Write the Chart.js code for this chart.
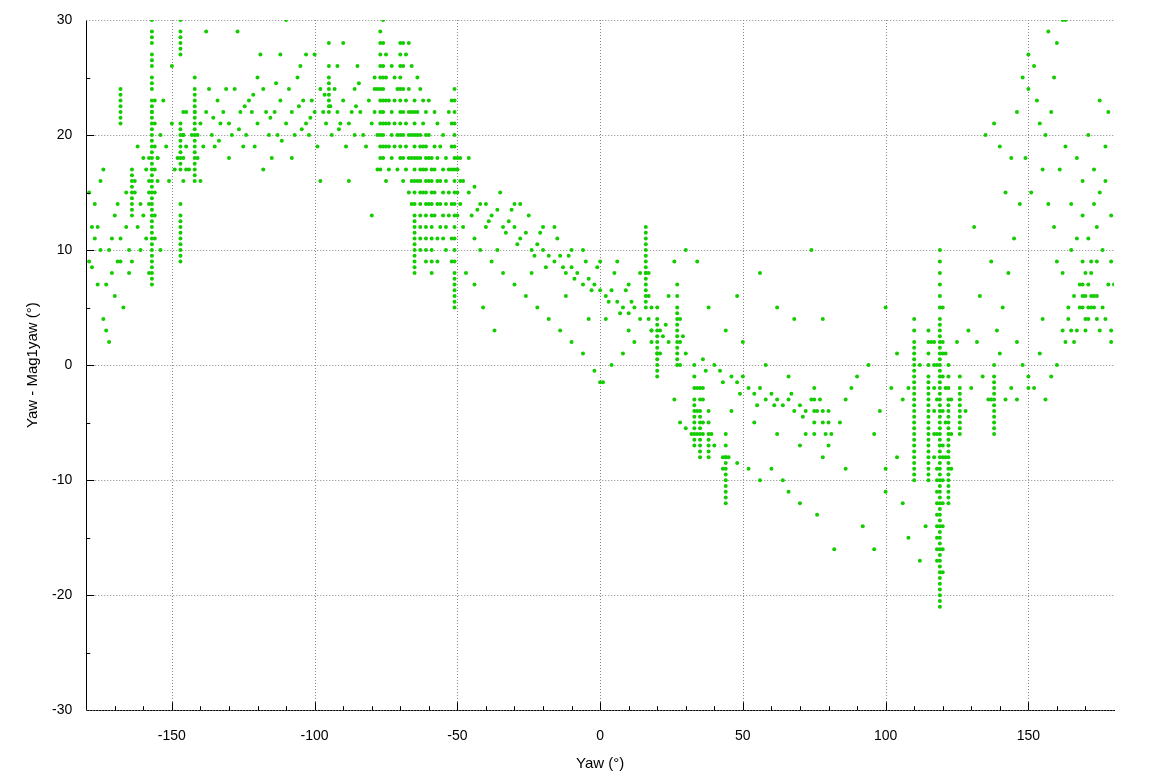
<!DOCTYPE html>
<html>
<head>
<meta charset="utf-8">
<script src="https://cdn.jsdelivr.net/npm/chart.js@4/dist/chart.umd.min.js"></script>
<style>
html, body { margin: 0; padding: 0; background: #fff; }
#wrap { width: 1156px; height: 773px; }
</style>
</head>
<body>
<div id="wrap"><canvas id="yawChart"></canvas></div>
<script>
// scattered points, [yaw, yaw - mag1yaw]
var leftScatter = [[-179,9],[-178,8.5],[-177,14],[-176,12],[-175,10],[-174,4],[-173,3],[-172,10],[-171,11],[-170,13],[-169,9],[-168,11],[-167,5],
  [-166,12],[-165,10],[-164,9],[-163,15],[-162,12],[-161,14],[-160,13],[-159,17],[-158,15],[-160,18],[-163,16],[-165,8],[-170,6],[-172,2],
  [-175,16],[-178,12],[-176,7],[-174,17],[-171,8],[-168,9],[-162,19],[-179,15],[-177,11],[-173,7],[-169,14],[-166,15],[-161,10],[-159,11],
  [-157,22],[-154,20],[-152,19],[-150,21],[-148,18],[-146,20],[-144,17],[-142,22],[-140,21],[-138,22],[-136,20],[-134,23],[-132,22],
  [-130,21],[-128,24],[-126,22],[-124,20],[-122,22],[-120,21],[-118,24],[-116,20],[-114,22],[-112,23],[-110,21],[-108,22],[-106,25],
  [-104,23],[-102,20],[-100,22],[-98,24],[-96,21],[-94,20],[-92,22],[-90,23],[-88,21],[-86,20],[-84,22],[-82,19],[-80,21],[-78,17],
  [-150,26],[-145,22],[-140,16],[-135,19],[-130,18],[-125,19],[-120,25],[-115,18],[-112,27],[-110,30],[-105,26],[-100,27],[-95,28],
  [-90,28],[-85,26],[-127,29],[-138,29],[-147,14],[-154,10],[-158,8],[-118,17],[-108,18],[-98,16],[-88,16],[-86,24],[-133,21],[-129,20],
  [-123,23],[-121,19],[-117,22],[-113,20],[-109,24],[-107,20],[-103,21],[-101,23],[-99,19],[-97,22],[-93,24],[-91,21],[-89,19],[-87,22],
  [-83,20],[-81,23],[-79,24],[-131,24],[-137,24],[-139,19],[-143,20],[-149,17],[-151,16],[-153,23],[-155,18],[-119,27],[-103,27],[-92,26],
  [-135.5,21.5],[-126.5,20.5],[-121.5,23.5],[-115.5,21.5],[-111.5,19.5],[-105.5,22.5],[-101.5,21.5],[-96.5,23.5],[-91.5,20.5],[-85.5,22.5],
  [-133.5,19.5],[-124.5,22.5],[-113.5,24.5],[-104.5,20.5],[-94.5,22.5],[-84.5,24.5]];

var midScatter = [[-50,17],[-48,16],[-46,15],[-44,15.5],[-42,14],[-40,14],[-38,13],[-36,13.5],[-34,12],[-32,12.5],[-30,12],[-28,11],
  [-26,11.5],[-24,10],[-22,10.5],[-20,10],[-18,9.5],[-16,9],[-14,9.5],[-12,8],[-10,8.5],[-8,8],[-6,7],[-4,7.5],[-2,7],[0,6.5],[2,6],
  [4,6.5],[6,5.5],[8,5],[10,4.5],[12,5],[14,4],[18,3],[22,2.5],[24,2],[30,1],[36,0.5],[40,0],[42,-0.5],[46,-1],[48,-1.5],[50,-1],
  [52,-2],[54,-2.5],[56,-2],[58,-3],[60,-2.5],[62,-3],[64,-3.5],[66,-3],[68,-4],[70,-3.5],[72,-4],[74,-3],[-45,13],[-40,12],[-35,15],
  [-30,14],[-25,13],[-20,12],[-15,11],[-10,10],[-5,9],[0,9],[5,8],[10,7],[-42,10],[-38,9],[-34,8],[-30,7],[-26,6],[-22,5],[-18,4],
  [-14,3],[-10,2],[-6,1],[-2,-0.5],[0,-1.5],[1,-1.5],[4,0],[8,1],[12,2],[16,8],[20,1],[26,-3],[28,-5],[30,-5.5],[32,-6],[36,-6],
  [40,-7],[44,-8],[48,-8.5],[52,-9],[56,-10],[60,-9],[64,-10],[66,-11],[70,-12],[76,-13],[82,-16],[-47,8],[-44,7],[-41,5],[-37,3],
  [56,8],[62,5],[68,4],[74,10],[78,4],[80,-7],[84,-5],[86,-3],[90,-1],[94,0],[96,-6],[98,-4],[100,-11],[100,5],[102,-2],[104,1],
  [106,-3],[92,-14],[96,-16],[-28,14],[-16,12],[-6,10],[6,9],[14,8],[24,6],[26,9],[30,10],[34,9],[38,5],[44,3],[48,6],[50,2],[58,0],
  [66,-1],[72,-6],[-48,12],[-46,18],[-44,11],[-36,10],[-24,8],[-12,6],[-4,4],[2,4],[10,3],[18,2],[28,0],[36,-2],[46,-4],[54,-5],[62,-6],
  [70,-7],[78,-8],[86,-9],[88,-2],[108,-15],[112,-17],[114,-14],[104,-8],[100,-9],[106,-12],
  [-43,13.5],[-39,12.5],[-33,11.5],[-29,10.5],[-23,9.5],[-19,8.5],[-13,8.5],[-9,7.5],[-3,6.5],[3,5.5],[7,4.5],[11,5.5],[23,3.5],
  [29,2.5],[37,-0.5],[43,-1.5],[49,-2.5],[55,-3.5],[61,-3.5],[67,-2.5],[71,-4.5],[-31,13.5],[-21,11.5],[-11,9.5],[-1,8.5],[9,6.5]];

var rightScatter = [[128,-4],[130,-2],[132,2],[134,-1],[136,-3],[140,1],[142,-3],[144,-2],[146,2],[148,0],[150,-1],[152,-2],[154,1],
  [156,-3],[158,-1],[160,0],[162,3],[164,4],[166,2],[168,5],[170,3],[172,6],[174,4],[176,5],[178,7],[179,3],[131,12],[135,20],[138,21],
  [140,19],[142,15],[144,18],[146,22],[148,25],[150,24],[152,26],[154,21],[156,20],[158,22],[160,28],[162,30],[163,30],[157,29],[159,25],
  [150,27],[149,18],[151,15],[153,23],[155,17],[157,14],[159,12],[161,17],[163,19],[165,14],[167,18],[169,13],[171,20],[173,17],[175,15],
  [177,19],[179,13],[178,22],[176,10],[174,12],[172,9],[170,8],[168,7],[166,6],[164,5],[162,8],[160,9],[165,10],[167,11],[169,16],
  [171,11],[173,14],[175,23],[177,16],[179,9],[180,7],[179,2],[177,4],[175,3],[173,5],[171,4],[169,6],[167,3],[165,3],[163,2],[145,11],
  [147,14],[143,8],[141,5],[139,3],[137,9],[133,6],[129,3],[125,2],[120,1],[116,2],[112,0],[108,-2],[146,-3],[150,-2],[155,4]];

// vertical streaks, listed as read
var streakPoints = [
  [-168,21],[-168,22],[-168,22.5],[-168,23],[-168,23.5],[-168,24],[-168,21.5],
  [-164,13],[-164,14],[-164,15],[-164,16],[-164,17],[-164,14.5],[-164,15.5],[-164,13.5],[-164,16.5],
  [-157,7],[-157,8],[-157,9],[-157,10],[-157,11],[-157,12],[-157,13],[-157,14],[-157,15],[-157,16],[-157,17],[-157,18],[-157,19],
  [-157,20],[-157,21],[-157,22],[-157,23],[-157,24],[-157,25],[-157,26],[-157,27],[-157,28],[-157,29],[-157,30],[-156,13],[-156,15],
  [-156,17],[-156,19],[-156,21],[-155,16],[-155,18],[-158,14],[-158,16],[-158,18],[-156,11],[-156,23],
  [-157,7.5],[-157,8.5],[-157,9.5],[-157,10.5],[-157,11.5],[-157,12.5],[-157,13.5],[-157,14.5],[-157,15.5],[-157,16.5],[-157,17.5],
  [-157,18.5],[-157,19.5],[-157,20.5],[-157,21.5],[-157,22.5],[-157,24.5],[-157,26.5],[-157,28.5],
  [-147,9],[-147,10],[-147,11],[-147,12],[-147,13],[-147,17],[-147,18],[-147,19],[-147,20],[-147,21],[-147,27],[-147,28],[-147,29],
  [-147,30],[-146,16],[-146,18],[-146,20],[-146,22],[-145,17],[-145,19],[-147,9.5],[-147,10.5],[-147,11.5],[-147,12.5],[-147,17.5],
  [-147,18.5],[-147,19.5],[-147,20.5],[-147,27.5],[-147,28.5],
  [-142,16],[-142,17],[-142,18],[-142,19],[-142,20],[-142,21],[-142,22],[-142,23],[-142,24],[-142,25],[-141,18],[-141,20],
  [-142,16.5],[-142,17.5],[-142,18.5],[-142,19.5],[-142,20.5],[-142,21.5],[-142,22.5],[-142,23.5],
  [-95,22],[-95,23],[-95,24],[-95,25],[-95,26],[-95,22.5],[-95,23.5],[-95,24.5],
  [-77,17],[-77,19],[-77,21],[-77,23],[-77,25],[-77,27],[-77,29],[-76,18],[-76,20],[-76,22],[-76,24],[-76,26],[-76,28],[-76,30],
  [-75,16],[-75,19],[-75,21],[-75,23],[-75,25],[-75,27],[-74,17],[-74,19],[-74,21],[-74,23],[-73,18],[-73,20],[-73,22],
  [-72,19],[-72,21],[-72,23],[-72,25],[-71,17],[-71,20],[-71,24],[-70,19],[-70,22],[-70,25],[-70,28],[-69,16],[-69,18],[-69,20],
  [-69,22],[-69,24],[-69,26],[-69,28],[-68,17],[-68,19],[-68,21],[-68,23],[-68,27],[-67,15],[-67,18],[-67,20],[-67,22],[-67,24],
  [-66,14],[-66,16],[-66,18],[-66,20],[-66,22],[-66,26],[-65,8],[-65,9],[-65,10],[-65,11],[-65,12],[-65,13],[-65,15],[-65,17],
  [-65,19],[-65,21],[-65,23],[-64,16],[-64,18],[-64,20],[-64,22],[-64,25],[-63,10],[-63,12],[-63,14],[-63,16],[-63,18],[-63,20],
  [-63,24],[-62,15],[-62,17],[-62,19],[-62,21],[-62,23],[-61,9],[-61,11],[-61,13],[-61,15],[-61,17],[-61,19],[-61,22],[-60,14],
  [-60,16],[-60,18],[-60,20],[-60,23],[-59,8],[-59,10],[-59,12],[-59,14],[-59,16],[-59,18],[-58,13],[-58,15],[-58,17],[-58,19],
  [-58,22],[-57,9],[-57,11],[-57,14],[-57,16],[-57,18],[-57,21],[-56,12],[-56,14],[-56,16],[-56,19],[-55,11],[-55,13],[-55,15],
  [-55,17],[-55,20],[-54,10],[-54,12],[-54,14],[-54,16],[-54,18],[-53,13],[-53,15],[-53,17],[-53,22],[-52,9],[-52,11],[-52,14],
  [-52,17],[-52,19],[-52,21],[-52,23],[-51,5],[-51,6],[-51,7],[-51,8],[-51,10],[-51,12],[-51,14],[-51,16],[-51,18],[-51,20],[-51,22],
  [-51,24],[-50,13],[-50,15],[-50,17],[-50,18],[-49,14],[-49,16],[-49,18],[-79,22],[-79,25],[-78,20],[-78,24],[-80,13],[-73,26],[-67,28],
  [-77,18],[-77,20],[-77,22],[-77,24],[-77,26],[-77,28],[-76,19],[-76,21],[-76,23],[-76,25],[-70,18],[-70,20],[-70,21],[-70,23],
  [-70,24],[-70,26],[-70,27],[-65,8.5],[-65,9.5],[-65,10.5],[-65,11.5],[-65,12.5],[-65,14],[-65,16],[-65,18],[-65,20],[-65,22],
  [-51,5.5],[-51,6.5],[-51,7.5],[-51,9],[-51,11],[-51,13],[-51,15],[-51,17],[-51,19],[-51,21],[-51,23],[-61,10],[-61,12],[-61,14],
  [-61,16],[-61,18],[-61,20],[-63,11],[-63,13],[-63,15],[-63,17],[-63,19],[-59,9],[-59,11],[-59,13],[-59,15],[-59,17],
  [16,5],[16,6],[16,7],[16,8],[16,9],[16,10],[16,11],[16,12],[17,4],[17,6],[17,8],[18,3],[18,5],[16,5.5],[16,6.5],[16,7.5],[16,8.5],
  [16,9.5],[16,10.5],[16,11.5],
  [20,-1],[20,0],[20,1],[20,2],[20,3],[20,4],[20,5],[21,1],[21,3],[20,-0.5],[20,0.5],[20,1.5],[20,2.5],[20,3.5],
  [27,0],[27,1],[27,2],[27,3],[27,4],[27,5],[27,6],[27,7],[28,2],[28,4],[27,0.5],[27,1.5],[27,2.5],[27,3.5],[27,4.5],
  [33,-7],[33,-6],[33,-5],[33,-4],[33,-3],[33,-2],[33,-1],[33,0],[34,-6],[34,-4],[34,-2],[33,-6.5],[33,-5.5],[33,-4.5],[33,-3.5],
  [35,-8],[35,-7],[35,-6],[35,-5],[35,-4],[35,-3],[35,-2],[36,-5],[36,-3],[35,-7.5],[35,-6.5],[35,-5.5],[35,-4.5],
  [38,-8],[38,-7],[38,-6],[38,-5],[38,-4],[39,-6],[38,-7.5],[38,-6.5],
  [44,-12],[44,-11],[44,-10],[44,-9],[44,-8],[44,-7],[44,-6],[43,-9],[43,-8],[45,-8],[44,-11.5],[44,-10.5],[44,-9.5],[44,-8.5],
  [75,-6],[75,-5],[75,-4],[75,-3],[75,-2],[76,-4],[77,-3],[78,-5],[78,-4],[79,-6],[80,-5],[80,-4],[81,-6],
  [110,-10],[110,-9],[110,-8],[110,-7],[110,-6],[110,-5],[110,-4],[110,-3],[110,-2],[110,-1],[110,0],[110,1],[110,2],[110,3],[110,4],
  [110,-9.5],[110,-8.5],[110,-7.5],[110,-6.5],[110,-5.5],[110,-4.5],[110,-3.5],[110,-2.5],[110,-1.5],[110,-0.5],[110,0.5],[110,1.5],
  [115,-10],[115,-9],[115,-8],[115,-7],[115,-6],[115,-5],[115,-4],[115,-3],[115,-2],[115,-1],[115,0],[115,1],[115,2],[115,3],
  [115,-9.5],[115,-8.5],[115,-7.5],[115,-6.5],[115,-5.5],[115,-4.5],[115,-3.5],[115,-2.5],[115,-1.5],
  [117,-8],[117,-6],[117,-4],[117,-2],[117,0],[117,2],
  [119,-21],[119,-20],[119,-19],[119,-18],[119,-17],[119,-16],[119,-15],[119,-14],[119,-13],[119,-12],[119,-11],[119,-10],[119,-9],
  [119,-8],[119,-7],[119,-6],[119,-5],[119,-4],[119,-3],[119,-2],[119,-1],[119,0],[119,1],[119,2],[119,3],[119,4],[119,5],[119,6],
  [119,7],[119,8],[119,9],[119,10],[118,-17],[118,-15],[118,-13],[118,-11],[118,-9],[118,-6],[118,-3],[118,0],[120,-18],[120,-14],
  [120,-10],[120,-7],[120,-4],[120,-1],[120,2],[120,5],[121,-8],[121,-5],[121,-2],[121,1],
  [119,-20.5],[119,-19.5],[119,-18.5],[119,-17.5],[119,-16.5],[119,-15.5],[119,-14.5],[119,-13.5],[119,-12.5],[119,-11.5],
  [119,-10.5],[119,-9.5],[119,-8.5],[119,-7.5],[119,-6.5],[119,-5.5],[119,-4.5],[119,-3.5],[119,-2.5],[119,-1.5],[119,-0.5],
  [119,0.5],[119,1.5],[119,2.5],[119,3.5],[118,-16],[118,-14],[118,-12],[118,-10],[120,-16],[120,-12],[120,-8],
  [122,-12],[122,-11],[122,-10],[122,-9],[122,-8],[122,-7],[122,-6],[122,-5],[122,-4],[122,-3],[122,-2],[122,-1],[122,0],
  [122,-11.5],[122,-10.5],[122,-9.5],[122,-8.5],[122,-7.5],[122,-6.5],[122,-5.5],[122,-4.5],[122,-3.5],
  [123,-9],[123,-6],[123,-3],
  [126,-6],[126,-5],[126,-4],[126,-3],[126,-2],[126,-1],[126,-5.5],[126,-4.5],[126,-3.5],[126,-2.5],
  [138,-6],[138,-5],[138,-4],[138,-3],[138,-2],[138,-1],[138,0],[137,-3],[138,-5.5],[138,-4.5],[138,-3.5],[138,-2.5],[138,-1.5],
  [169,5],[169,7],[169,9],[170,6],[170,4],[171,5],[171,7],[172,5],[172,8],[173,6],[174,9],[174,6]];

var xTickValues = [-150, -100, -50, 0, 50, 100, 150];
var yTickValues = [-30, -20, -10, 0, 10, 20, 30];

var allPoints = leftScatter.concat(midScatter, rightScatter, streakPoints).map(function (p) {
  return { x: p[0], y: p[1] };
});

// dotted grid drawn under the points
var dottedGrid = {
  id: 'dottedGrid',
  beforeDatasetsDraw: function (chart) {
    var c = chart.ctx, xs = chart.scales.x, ys = chart.scales.y;
    c.save();
    c.strokeStyle = '#888';
    c.lineWidth = 1;
    c.setLineDash([1, 2]);
    c.beginPath();
    xTickValues.forEach(function (v) {
      var px = Math.round(xs.getPixelForValue(v)) + 0.5;
      c.moveTo(px, ys.top); c.lineTo(px, ys.bottom);
    });
    yTickValues.forEach(function (v) {
      var py = Math.round(ys.getPixelForValue(v)) + 0.5;
      c.moveTo(xs.left, py); c.lineTo(xs.right, py);
    });
    c.stroke();
    c.restore();
  },
  afterDraw: function (chart) {
    var c = chart.ctx, xs = chart.scales.x, ys = chart.scales.y;
    c.save();
    c.strokeStyle = '#000';
    c.lineWidth = 1;
    c.beginPath();
    // minor and major tick marks
    for (var v = -170; v <= 170; v += 10) {
      var px = Math.round(xs.getPixelForValue(v)) + 0.5;
      var len = (v % 50 === 0) ? 8 : 4;
      c.moveTo(px, ys.bottom); c.lineTo(px, ys.bottom - len);
    }
    for (var w = -25; w <= 25; w += 5) {
      var py = Math.round(ys.getPixelForValue(w)) + 0.5;
      var l2 = (w % 10 === 0) ? 8 : 4;
      c.moveTo(xs.left, py); c.lineTo(xs.left + l2, py);
    }
    c.stroke();
    c.restore();
  }
};

var ctx = document.getElementById('yawChart').getContext('2d');
var chart = new Chart(ctx, {
  type: 'scatter',
  data: {
    datasets: [{
      data: allPoints,
      backgroundColor: 'rgb(20, 205, 0)',
      borderWidth: 0,
      pointRadius: 2
    }]
  },
  options: {
    responsive: true,
    maintainAspectRatio: false,
    animation: false,
    layout: { padding: { left: 20, right: 42, top: 20, bottom: 0 } },
    plugins: { legend: { display: false }, tooltip: { enabled: false } },
    scales: {
      x: {
        min: -180, max: 180,
        afterBuildTicks: function (s) { s.ticks = xTickValues.map(function (v) { return { value: v }; }); },
        grid: { display: false },
        border: { display: true, color: '#000' },
        ticks: { color: '#000', font: { family: 'Liberation Sans', size: 14 }, padding: 10 },
        title: { display: true, text: 'Yaw (°)', color: '#000', font: { family: 'Liberation Sans', size: 15 }, padding: { top: 0, bottom: 0 } }
      },
      y: {
        min: -30, max: 30,
        afterBuildTicks: function (s) { s.ticks = yTickValues.map(function (v) { return { value: v }; }); },
        grid: { display: false },
        border: { display: true, color: '#000' },
        ticks: { color: '#000', font: { family: 'Liberation Sans', size: 14 }, padding: 6 },
        title: { display: true, text: 'Yaw - Mag1yaw (°)', color: '#000', font: { family: 'Liberation Sans', size: 15 } }
      }
    }
  },
  plugins: [dottedGrid]
});
</script>
</body>
</html>
